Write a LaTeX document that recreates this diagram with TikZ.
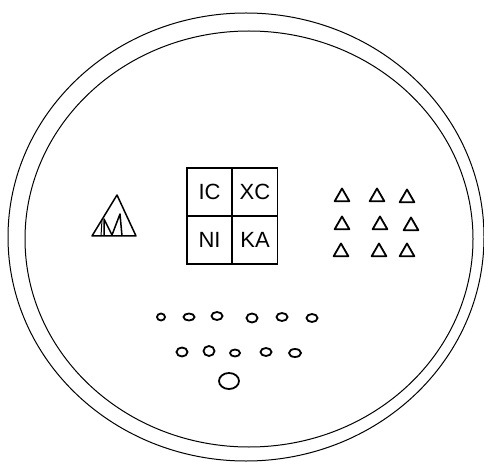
\documentclass[tikz,border=0pt]{standalone}
\usepackage{fontspec}
\setmainfont{Liberation Sans}
\usetikzlibrary{shapes.geometric}
\begin{document}
\begin{tikzpicture}[x=1pt,y=-1pt,
  rim/.style={line width=1pt},
  cell/.style={draw,line width=1.3pt,minimum width=45pt,minimum height=48pt,inner sep=0pt,outer sep=0pt,font=\fontsize{22}{22}\selectfont},
  tri/.style={draw,line width=1.8pt,line join=round,regular polygon,regular polygon sides=3,minimum size=17pt,inner sep=0pt},
  oval/.style={draw,line width=1.8pt,ellipse,inner sep=0pt}]
\useasboundingbox (0,0) rectangle (484,462);
\begin{scope}
\clip (0,0) rectangle (484,462);
\draw[rim] (246,237) ellipse [x radius=238pt, y radius=224pt];
\draw[rim] (249,239) ellipse [x radius=224pt, y radius=208pt];
\end{scope}
% grid of four cells
\node[cell] (ic) at (209.5,192) {IC};
\node[cell] (xc) at (255,192) {XC};
\node[cell] (ni) at (209.5,240) {NI};
\node[cell] (ka) at (255,240) {KA};
% M triangle
\coordinate (mapex) at (117,195);
\coordinate (mbl) at (92,236);
\coordinate (mbr) at (136,236);
\draw[line width=1.5pt,line join=round] (mbl) -- (mapex) -- (mbr) -- cycle;
\draw[line width=1.5pt,line join=round] (104,236) -- (104,219) -- (112,235) -- (120,214) -- (122,236);
\draw[line width=1pt] (101,236) -- (102,220);
% triangles
\node[tri] (t11) at (342,197) {};
\node[tri] (t12) at (377,197) {};
\node[tri] (t13) at (407,198) {};
\node[tri] (t21) at (342,225) {};
\node[tri] (t22) at (380,225) {};
\node[tri] (t23) at (411,226) {};
\node[tri] (t31) at (341,252) {};
\node[tri] (t32) at (379,252) {};
\node[tri] (t33) at (407,252) {};
% ovals row 1
\node[oval,minimum width=8pt,minimum height=7pt] (o11) at (161,317) {};
\node[oval,minimum width=11pt,minimum height=7pt] (o12) at (189,317) {};
\node[oval,minimum width=11pt,minimum height=8pt] (o13) at (217,316) {};
\node[oval,minimum width=11pt,minimum height=9pt] (o14) at (252,318) {};
\node[oval,minimum width=11pt,minimum height=8pt] (o15) at (282,317) {};
\node[oval,minimum width=11pt,minimum height=8pt] (o16) at (312,318) {};
% ovals row 2
\node[oval,minimum width=11pt,minimum height=9pt] (o21) at (182,352) {};
\node[oval,minimum width=11pt,minimum height=10pt] (o22) at (209,351) {};
\node[oval,minimum width=10pt,minimum height=7pt] (o23) at (235,353) {};
\node[oval,minimum width=11pt,minimum height=8pt] (o24) at (266,352) {};
\node[oval,minimum width=12pt,minimum height=8pt] (o25) at (295,353) {};
% bottom oval
\node[oval,minimum width=20pt,minimum height=16pt] (o31) at (229,381) {};
\end{tikzpicture}
\end{document}
